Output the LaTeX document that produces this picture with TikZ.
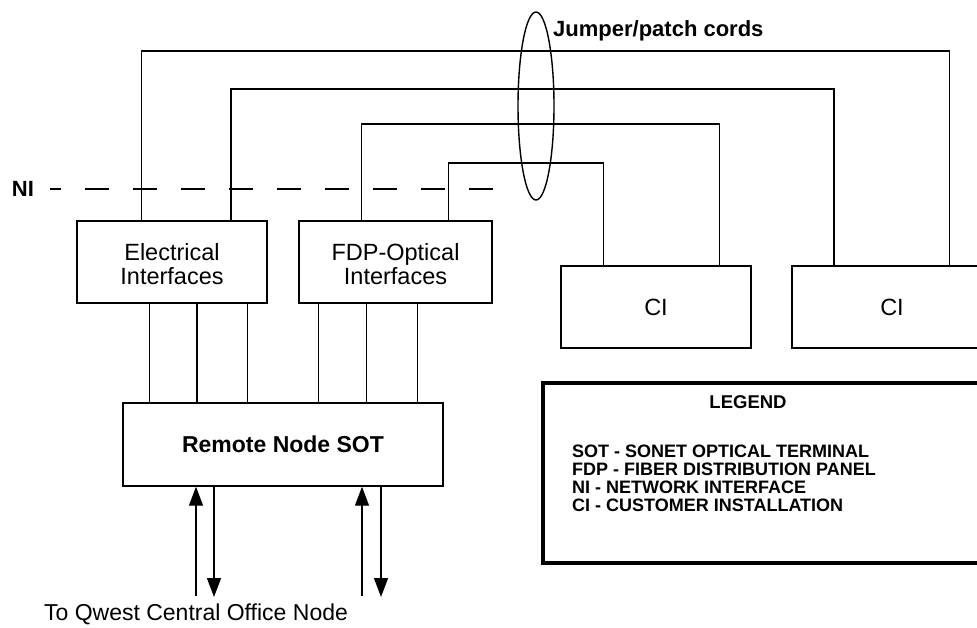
\documentclass[tikz,border=0pt]{standalone}
\usepackage{fontspec}
\setmainfont{Liberation Sans}
\usetikzlibrary{positioning,arrows.meta,shapes.geometric}
\tikzset{
  box/.style      ={rectangle, draw=black, line width=1.4pt, align=center,
                    inner sep=0pt, font=\fontsize{23.5}{24}\selectfont},
  cord/.style     ={draw=black, line width=1.2pt},
  heavycord/.style={cord, line width=2.2pt},
  flow/.style     ={-{Triangle[length=19pt,width=14pt]}, line width=1.3pt},
  nidash/.style   ={line width=2.6pt, dash pattern=on 24pt off 24pt, dash phase=13pt},
  boldlbl/.style  ={inner sep=0pt, font=\bfseries\fontsize{22}{22}\selectfont},
}

\begin{document}
\begin{tikzpicture}[x=1pt,y=-1pt]
  \useasboundingbox (0,0) rectangle (977,627);
  \clip (0,0) rectangle (977,627);

  % interface boxes
  \node[box, minimum width=190pt, minimum height=82pt] (elec) at (172,262) {\strut\\[-21pt]Electrical\\Interfaces};
  \node[box, minimum width=193pt, minimum height=82pt] (fdp) at (395.5,262) {\strut\\[-21pt]FDP-Optical\\Interfaces};

  % customer installations (second one runs off the page)
  \node[box, minimum width=190pt, minimum height=82pt] (ci1) at (656,307) {CI};
  \node[box, minimum width=200pt, minimum height=82pt] (ci2) at (892,307) {CI};

  % SOT
  \node[box, minimum width=320pt, minimum height=83pt, font=\bfseries\fontsize{23}{23}\selectfont]
       (sot) at (283,444.5) {Remote Node SOT};

  % network interface line
  \node[boldlbl] (ni) at (23,189) {NI};
  \coordinate (niend) at (495,189);
  \draw[nidash] ([xshift=16pt]ni.east) -- (niend);

  % jumper bundle
  \node[draw, ellipse, line width=1.4pt, minimum width=36pt, minimum height=188pt, inner sep=0pt]
       (bundle) at (536,106) {};
  \node[boldlbl, anchor=base west] (jumper) at (553,36) {Jumper/patch cords};

  % cord levels
  \coordinate (lvlA) at (0,51);
  \coordinate (lvlB) at (0,89);
  \coordinate (lvlC) at (0,124);
  \coordinate (lvlD) at (0,163);

  \coordinate (eA) at ([xshift=65pt]elec.north west);
  \coordinate (eB) at ([xshift=155pt]elec.north west);
  \coordinate (fC) at ([xshift=63pt]fdp.north west);
  \coordinate (fD) at ([xshift=150pt]fdp.north west);
  \coordinate (cA) at ([xshift=158pt]ci2.north west);
  \coordinate (cB) at ([xshift=43pt]ci2.north west);
  \coordinate (cC) at ([xshift=159pt]ci1.north west);
  \coordinate (cD) at ([xshift=43pt]ci1.north west);

  \draw[cord] (eA) -- (eA |- lvlA) -| (cA);
  \draw[heavycord] (eB) -- (eB |- lvlB) -| (cB);
  \draw[cord, line width=1.6pt] (fC) -- (fC |- lvlC) -| (cC);
  \draw[cord] (fD) -- (fD |- lvlD) -| (cD);

  % links down to the SOT
  \foreach \dx/\lw [count=\i] in {73/1.2,121/2.2,171/1.2}{
    \coordinate (et\i) at ([xshift=\dx pt]elec.south west);
    \draw[line width=\lw pt] (et\i) -- (et\i |- sot.north);
  }
  \foreach \dx/\lw [count=\i] in {20/1.2,68/1.2,119/1.2}{
    \coordinate (ft\i) at ([xshift=\dx pt]fdp.south west);
    \draw[line width=\lw pt] (ft\i) -- (ft\i |- sot.north);
  }

  % to/from the central office
  \coordinate (qa) at (196,596);
  \coordinate (qb) at (214,597);
  \coordinate (qc) at (362,596);
  \coordinate (qd) at (381,597);
  \draw[flow] (qa) -- (qa |- sot.south);
  \draw[flow] (qb |- sot.south) -- (qb);
  \draw[flow] (qc) -- (qc |- sot.south);
  \draw[flow] (qd |- sot.south) -- (qd);
  \node[anchor=base, inner sep=0pt, font=\fontsize{23}{23}\selectfont] (office) at (196,620)
       {To Qwest Central Office Node};

  % legend
  \node[draw, line width=3.5pt, minimum width=460pt, minimum height=180pt] (legend) at (773,473) {};
  \node[inner sep=0pt, font=\bfseries\fontsize{18.5}{18}\selectfont] (legtitle) at (748,402) {LEGEND};
  \node[anchor=north west, align=left, inner sep=0pt, font=\bfseries\fontsize{18}{18}\selectfont]
       (legtext) at (572,445)
       {SOT - SONET OPTICAL TERMINAL\\FDP - FIBER DISTRIBUTION PANEL\\NI - NETWORK INTERFACE\\CI - CUSTOMER INSTALLATION};
\end{tikzpicture}
\end{document}
